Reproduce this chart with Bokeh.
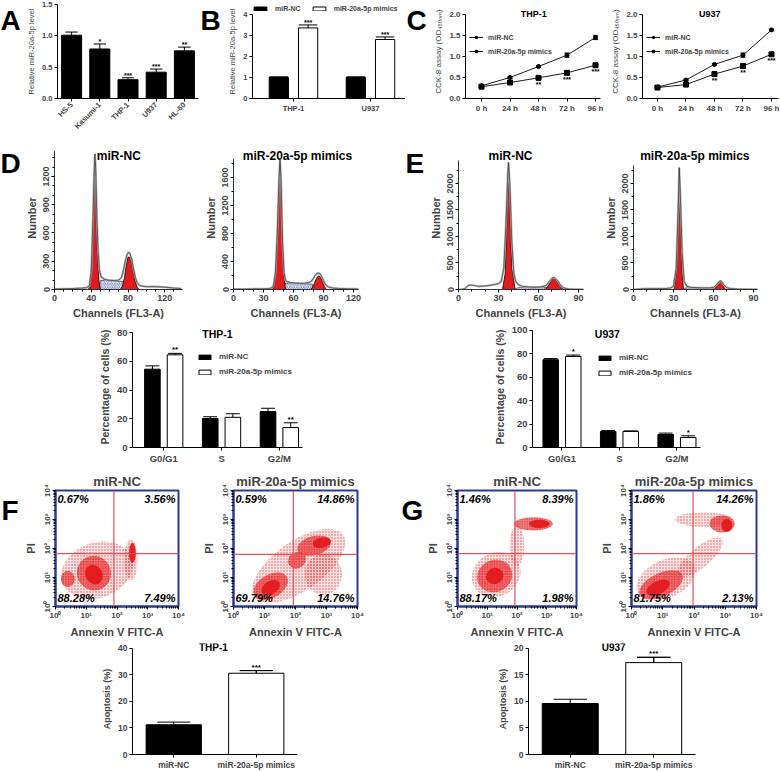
import math
from bokeh.plotting import figure
from bokeh.layouts import row, column
from bokeh.models import Range1d, FixedTicker, Legend, LegendItem, Span, PrintfTickFormatter
from bokeh.core.properties import value
from bokeh.embed import file_html
from bokeh.resources import INLINE

FONT = "Liberation Sans"
RED = "#E31A1C"
BLUE = "#2B3A96"
GATE = "#E8505A"

# ---------------- data ----------------
# A: relative miR-20a-5p level in cell lines
a_cells = ["HS-5", "Kasumi-1", "THP-1", "U937", "HL-60"]
a_level = [1.01, 0.79, 0.30, 0.42, 0.76]
a_err = [0.05, 0.08, 0.03, 0.05, 0.06]
a_sig = ["", "*", "***", "***", "**"]

# B: after transfection
b_cells = ["THP-1", "U937"]
b_nc = [1.00, 1.00]
b_nc_err = [0.03, 0.03]
b_mim = [3.35, 2.80]
b_mim_err = [0.14, 0.12]
b_sig = ["***", "***"]

# C: CCK-8 assay
c_hours = [0, 24, 48, 72, 96]
thp_nc = [0.30, 0.50, 0.76, 1.03, 1.45]
thp_nc_err = [0.02, 0.02, 0.02, 0.05, 0.05]
thp_mim = [0.28, 0.38, 0.49, 0.61, 0.79]
thp_mim_err = [0.02, 0.02, 0.04, 0.02, 0.02]
thp_sig = ["", "", "**", "***", "***"]
u_nc = [0.27, 0.44, 0.81, 1.03, 1.63]
u_nc_err = [0.02, 0.02, 0.02, 0.05, 0.02]
u_mim = [0.26, 0.33, 0.58, 0.77, 1.05]
u_mim_err = [0.02, 0.02, 0.02, 0.03, 0.03]
u_sig = ["", "", "**", "**", "***"]

# D/E histograms: (channel, count) outlines and fitted peaks
dnc_out_ch = [0, 10, 20, 30, 35, 38, 40, 42, 43, 44, 45, 46, 47.5, 49, 51, 54, 58, 65, 70, 73, 75, 77, 79, 80.5, 82, 84, 86, 88, 90, 93, 96, 100, 110, 120, 130, 138]
dnc_out_n = [5, 8, 10, 15, 20, 40, 200, 800, 1200, 1440, 1250, 800, 400, 200, 130, 110, 100, 95, 100, 130, 200, 300, 370, 395, 385, 320, 220, 130, 70, 40, 35, 30, 30, 25, 15, 10]
dnc_g1_ch = [37, 39, 41, 42.5, 44, 45.5, 47, 48.5, 50]
dnc_g1_n = [0, 60, 350, 850, 1360, 800, 300, 80, 0]
dnc_g2_ch = [72, 74, 76, 78, 80, 82, 84, 86, 88, 90, 92]
dnc_g2_n = [0, 40, 120, 250, 345, 340, 270, 170, 80, 25, 0]
dnc_s_ch = [48, 50, 55, 60, 65, 70, 75, 79]
dnc_s_n = [0, 95, 100, 95, 90, 88, 85, 80]

dm_out_ch = [0, 10, 20, 30, 35, 38, 40, 42, 44, 45.5, 46.5, 47.5, 49, 50.5, 52, 54, 57, 60, 65, 70, 75, 78, 80, 82, 84, 86, 88, 90, 92, 95, 100, 105, 110, 115, 120, 125]
dm_out_n = [5, 5, 8, 10, 12, 20, 60, 250, 900, 1600, 1850, 1600, 700, 250, 130, 110, 100, 95, 90, 88, 95, 120, 160, 210, 235, 230, 190, 130, 70, 35, 20, 15, 12, 10, 8, 5]
dm_g1_ch = [39, 41, 43, 45, 46.5, 48, 50, 52]
dm_g1_n = [0, 80, 450, 1250, 1800, 1100, 250, 0]
dm_g2_ch = [77, 79, 81, 83, 85, 87, 89, 91, 93]
dm_g2_n = [0, 30, 90, 160, 195, 175, 110, 40, 0]
dm_s_ch = [50, 52, 56, 60, 65, 70, 75, 79]
dm_s_n = [0, 95, 90, 88, 85, 82, 80, 75]

enc_out_ch = [0, 3, 5, 7, 9, 12, 15, 18, 21, 24, 27, 30, 32, 34, 35.5, 37, 37.5, 38.5, 40, 41.5, 43, 45, 48, 52, 56, 60, 63, 66, 68, 70, 71.5, 73, 75, 77, 79, 82, 86, 90, 94]
enc_out_n = [0, 5, 20, 70, 85, 75, 60, 65, 70, 80, 95, 110, 150, 400, 1200, 2200, 2400, 2000, 900, 300, 150, 90, 60, 50, 45, 45, 55, 80, 150, 210, 225, 200, 140, 70, 30, 10, 5, 3, 2]
enc_g1_ch = [33, 35, 36.5, 37.5, 38.5, 40, 42.5]
enc_g1_n = [0, 300, 1500, 2300, 1500, 400, 0]
enc_g2_ch = [65, 67, 69, 71, 73, 75, 77, 79]
enc_g2_n = [0, 60, 150, 207, 180, 110, 40, 0]
enc_s_ch = [42, 45, 50, 55, 60, 64, 66]
enc_s_n = [0, 40, 40, 38, 38, 40, 40]

em_out_ch = [0, 5, 10, 15, 20, 25, 28, 30, 32, 33.5, 34.3, 35, 36.5, 38, 40, 43, 47, 52, 57, 60, 62, 64, 65, 66, 68, 70, 73, 78, 85, 93]
em_out_n = [0, 10, 15, 15, 15, 20, 30, 60, 400, 1500, 2300, 1900, 700, 150, 60, 40, 35, 30, 30, 40, 80, 140, 165, 150, 80, 35, 15, 8, 5, 3]
em_g1_ch = [30.5, 32.5, 33.5, 34.3, 35.3, 36.5, 37.5]
em_g1_n = [0, 400, 1500, 2280, 1200, 300, 0]
em_g2_ch = [60.5, 62, 63.5, 65, 66.5, 68, 69]
em_g2_n = [0, 50, 120, 157, 120, 40, 0]
em_s_ch = [37, 40, 45, 50, 55, 60]
em_s_n = [0, 35, 33, 30, 30, 30]

# D/E bar charts: cell cycle distribution (%)
phases = ["G0/G1", "S", "G2/M"]
d_nc = [54.5, 20.2, 25.0]
d_nc_err = [2.3, 1.2, 2.3]
d_mim = [64.5, 21.0, 13.9]
d_mim_err = [1.0, 2.5, 3.3]
d_sig = ["**", "", "**"]
e_nc = [75.0, 13.7, 11.1]
e_nc_err = [1.0, 0.8, 1.2]
e_mim = [77.8, 13.7, 8.5]
e_mim_err = [1.2, 0.5, 1.5]
e_sig = ["*", "", "*"]

# F/G flow cytometry: cell clusters in log10 space (cx, cy, width, height, angle, density)
fnc_clusters = [(1.35, 1.25, 2.40, 1.90, 20, 1), (2.45, 1.60, 0.45, 1.40, 0, 1),
                (1.25, 1.15, 1.10, 1.20, 30, 2), (0.40, 0.95, 0.45, 0.55, 0, 2),
                (1.25, 1.10, 0.55, 0.70, 30, 3), (2.50, 1.85, 0.22, 0.70, 0, 3)]
fm_clusters = [(2.10, 1.40, 3.50, 1.70, 35, 1), (2.90, 1.10, 1.20, 1.40, 0, 1),
               (1.20, 0.70, 1.20, 0.80, 30, 2), (2.60, 2.10, 1.10, 0.65, 15, 2), (2.05, 1.60, 0.60, 0.55, 30, 2),
               (1.20, 0.65, 0.65, 0.45, 30, 3), (2.85, 2.20, 0.60, 0.35, 10, 3)]
gnc_clusters = [(1.30, 1.10, 1.70, 1.50, 30, 1), (2.00, 2.10, 0.50, 1.40, 0, 1),
                (1.25, 1.05, 1.20, 1.10, 25, 2), (2.55, 2.85, 1.30, 0.45, 0, 2),
                (1.25, 1.05, 0.60, 0.55, 25, 3), (2.75, 2.85, 0.70, 0.28, 0, 3)]
gm_clusters = [(1.10, 0.95, 2.00, 1.30, 25, 1), (2.20, 1.70, 1.80, 0.70, 40, 1), (2.30, 3.00, 1.80, 0.50, 0, 1),
               (0.95, 0.75, 1.50, 0.80, 25, 2), (2.90, 2.85, 0.80, 0.60, 0, 2),
               (0.85, 0.65, 0.80, 0.45, 25, 3), (3.05, 2.80, 0.35, 0.45, 0, 3)]
fnc_gate = (1.90, 1.82)
fm_gate = (1.93, 1.80)
gnc_gate = (1.93, 1.82)
gm_gate = (1.97, 1.82)
fnc_pct = ["0.67%", "3.56%", "88.28%", "7.49%"]
fm_pct = ["0.59%", "14.86%", "69.79%", "14.76%"]
gnc_pct = ["1.46%", "8.39%", "88.17%", "1.98%"]
gm_pct = ["1.86%", "14.26%", "81.75%", "2.13%"]
log_labels = ["10\u2070", "10\u00b9", "10\u00b2", "10\u00b3", "10\u2074"]

# F/G apoptosis bars
apo_groups = ["miR-NC", "miR-20a-5p mimics"]
f_apo = [11.2, 30.6]
f_apo_err = [1.0, 1.0]
g_apo = [9.6, 17.3]
g_apo_err = [0.8, 1.0]
apo_sig = ["", "***"]


# ---------------- helpers ----------------
def new_fig(w, h, l, r, t, b, xr, yr, title=None):
    p = figure(width=w, height=h, x_range=Range1d(*xr), y_range=Range1d(*yr),
               min_border_left=l, min_border_right=r, min_border_top=t, min_border_bottom=b,
               output_backend="svg", toolbar_location=None, title=title)
    p.xgrid.visible = False
    p.ygrid.visible = False
    p.outline_line_color = None
    p.background_fill_color = "white"
    p.border_fill_color = "white"
    return p


def style_axes(p, tick_fs, lab_fs, lab_bold=True, tick_bold=True, tick_out=3):
    for ax in p.axis:
        ax.major_label_text_font = FONT
        ax.major_label_text_font_size = tick_fs
        ax.major_label_text_font_style = "bold" if tick_bold else "normal"
        ax.axis_label_text_font = FONT
        ax.axis_label_text_font_size = lab_fs
        ax.axis_label_text_font_style = "bold" if lab_bold else "normal"
        ax.axis_line_color = "black"
        ax.major_tick_line_color = "black"
        ax.major_tick_in = 0
        ax.major_tick_out = tick_out
        ax.minor_tick_line_color = None
        ax.major_label_standoff = 2
        ax.axis_label_standoff = 3


def letter(ch, w, h, x, ytop):
    p = figure(width=w, height=h, x_range=Range1d(0, w), y_range=Range1d(0, h), min_border=0,
               output_backend="svg", toolbar_location=None, title=None,
               x_axis_location=None, y_axis_location=None)
    p.outline_line_color = None
    p.xgrid.visible = False
    p.ygrid.visible = False
    p.text(x=[x], y=[h - ytop], text=[ch], text_font=value(FONT), text_font_size="28px",
           text_font_style="bold", text_baseline="top", text_align="left")
    return p


def txt(p, xs, ys, texts, fs, style="bold", align="center", baseline="bottom", xo=0, yo=0, color="black"):
    p.text(x=xs, y=ys, text=texts, text_font=value(FONT), text_font_size=fs, text_font_style=style,
           text_align=align, text_baseline=baseline, x_offset=xo, y_offset=yo, text_color=color)


def up_err(p, xs, ys, es, cap, lw=1):
    tops = [y + e for y, e in zip(ys, es)]
    p.segment(x0=xs, y0=ys, x1=xs, y1=tops, line_color="black", line_width=lw)
    p.segment(x0=[x - cap for x in xs], y0=tops, x1=[x + cap for x in xs], y1=tops, line_color="black", line_width=lw)
    return tops


def both_err(p, xs, ys, es, cap):
    lo = [y - e for y, e in zip(ys, es)]
    hi = [y + e for y, e in zip(ys, es)]
    p.segment(x0=xs, y0=lo, x1=xs, y1=hi, line_color="black", line_width=1)
    p.segment(x0=[x - cap for x in xs], y0=hi, x1=[x + cap for x in xs], y1=hi, line_color="black", line_width=1)
    p.segment(x0=[x - cap for x in xs], y0=lo, x1=[x + cap for x in xs], y1=lo, line_color="black", line_width=1)


def legend(p, items, loc, fs, orient="vertical", gw=15, gh=6, spacing=5, standoff=6, padding=0):
    lg = Legend(items=[LegendItem(label=l, renderers=rs) for l, rs in items], location=loc,
                orientation=orient, label_text_font=FONT, label_text_font_size=fs,
                label_text_font_style="bold", glyph_width=gw, glyph_height=gh, label_height=8,
                spacing=spacing, padding=padding, margin=0, border_line_color=None,
                background_fill_alpha=0, label_standoff=standoff)
    p.add_layout(lg)


# ---------------- row 1 ----------------
pA = new_fig(178, 142, 35, 2, 4, 44, (-0.5, 4.5), (0, 1.5))
xa = list(range(len(a_cells)))
pA.vbar(x=xa, top=a_level, width=0.71, fill_color="black", line_color="black")
tops = up_err(pA, xa, a_level, a_err, 0.22)
txt(pA, xa, tops, a_sig, "7px", yo=1)
style_axes(pA, "7.5px", "7.5px", lab_bold=False)
pA.xaxis.ticker = FixedTicker(ticks=xa)
pA.xaxis.major_label_overrides = {i: c for i, c in enumerate(a_cells)}
pA.xaxis.major_label_orientation = math.pi / 4
pA.yaxis.ticker = FixedTicker(ticks=[0, 0.5, 1.0, 1.5])
pA.yaxis.formatter = PrintfTickFormatter(format="%.1f")
pA.yaxis.axis_label = "Relative miR-20a-5p level"

pB = new_fig(180, 142, 25, 0, 0, 26, (-0.532, 1.455), (0, 4.46))
xb = list(range(len(b_cells)))
off = 0.19
xb_nc = [x - off for x in xb]
xb_m = [x + off for x in xb]
up_err(pB, xb_nc, b_nc, b_nc_err, 0.12)
rb1 = pB.vbar(x=xb_nc, top=b_nc, width=0.25, fill_color="black", line_color="black")
rb2 = pB.vbar(x=xb_m, top=b_mim, width=0.25, fill_color="white", line_color="black")
tops = up_err(pB, xb_m, b_mim, b_mim_err, 0.12)
txt(pB, xb_m, tops, b_sig, "7px", yo=1)
style_axes(pB, "7.5px", "7.5px", lab_bold=False)
pB.xaxis.ticker = FixedTicker(ticks=xb)
pB.xaxis.major_label_overrides = {i: c for i, c in enumerate(b_cells)}
pB.yaxis.ticker = FixedTicker(ticks=[0, 1, 2, 3, 4])
pB.yaxis.bounds = (0, 4)
pB.yaxis.axis_label = "Relative miR-20a-5p level"
legend(pB, [("miR-NC", [rb1]), ("miR-20a-5p mimics", [rb2])], "top_left", "7px", orient="horizontal",
       gw=16, gh=5, spacing=10, standoff=7, padding=2)


def cck(p, nc, nc_err, mim, mim_err, sig, title, title_x):
    both_err(p, c_hours, nc, nc_err, 2.2)
    both_err(p, c_hours, mim, mim_err, 2.2)
    l1 = p.line(c_hours, nc, line_color="black", line_width=0.9)
    m1 = p.scatter(c_hours, nc, marker="circle", size=4, fill_color="black", line_color="black")
    l2 = p.line(c_hours, mim, line_color="black", line_width=0.9)
    m2 = p.scatter(c_hours, mim, marker="square", size=5, fill_color="black", line_color="black")
    txt(p, c_hours, mim, sig, "7px", baseline="top", yo=3)
    txt(p, [title_x], [2.0], [title], "9px", baseline="middle")
    style_axes(p, "8px", "8px", lab_bold=False)
    p.xaxis.ticker = FixedTicker(ticks=c_hours)
    p.xaxis.formatter = PrintfTickFormatter(format="%d h")
    p.yaxis.ticker = FixedTicker(ticks=[0, 0.5, 1.0, 1.5, 2.0])
    p.yaxis.formatter = PrintfTickFormatter(format="%.1f")
    p.yaxis.bounds = (0, 2)
    p.yaxis.axis_label = "CCK-8 assay (OD\u2084\u2085\u2080\u2099\u2098)"
    legend(p, [("miR-NC", [l1, m1]), ("miR-20a-5p mimics", [l2, m2])], (4, 43), "7px", gw=14, gh=6, spacing=6, standoff=5)


pC1 = new_fig(178, 142, 38, 5, 3, 43, (-13.47, 100.2), (0, 2.233))
cck(pC1, thp_nc, thp_nc_err, thp_mim, thp_mim_err, thp_sig, "THP-1", 44)
pC2 = new_fig(175, 142, 37, 2, 3, 43, (-12.6, 101.9), (0, 2.233))
cck(pC2, u_nc, u_nc_err, u_mim, u_mim_err, u_sig, "U937", 44)

row1 = row(letter("A", 22, 142, 0, 0), pA, letter("B", 25, 142, 0, 0), pB,
           letter("C", 22, 142, 1, 0), pC1, pC2)


# ---------------- row 2: histograms ----------------
def hist(p, out_ch, out_n, g1_ch, g1_n, g2_ch, g2_n, s_ch, s_n, title, title_x, xt, xminor, yt, yminor, ybound):
    p.patch(s_ch + [s_ch[-1], s_ch[0]], s_n + [0, 0], fill_color="white", line_color="#222222",
            line_width=0.6, hatch_pattern="right_diagonal_line", hatch_color="#3A4FB8", hatch_scale=3.5,
            hatch_weight=0.7)
    p.patch(g1_ch, g1_n, fill_color=RED, line_color="black", line_width=0.8)
    p.patch(g2_ch, g2_n, fill_color=RED, line_color="black", line_width=0.8)
    p.line(out_ch, out_n, line_color="#B0B0B0", line_width=2.2, line_alpha=0.9)
    p.line(out_ch, out_n, line_color="#222222", line_width=0.6)
    txt(p, [title_x], [p.y_range.end], [title], "12px", baseline="top", yo=2)
    style_axes(p, "9px", "11px")
    for ax in p.axis:
        ax.minor_tick_line_color = "black"
        ax.minor_tick_in = 0
        ax.minor_tick_out = 2
        ax.axis_line_color = "#333333"
    p.xaxis.ticker = FixedTicker(ticks=xt, minor_ticks=xminor)
    p.yaxis.ticker = FixedTicker(ticks=yt, minor_ticks=yminor)
    p.yaxis.major_label_orientation = "vertical"
    p.yaxis.bounds = (0, ybound)
    p.xaxis.axis_label = "Channels (FL3-A)"
    p.yaxis.axis_label = "Number"


pDN = new_fig(168, 180, 30, 8, 4, 33, (0, 139.3), (0, 1518))
hist(pDN, dnc_out_ch, dnc_out_n, dnc_g1_ch, dnc_g1_n, dnc_g2_ch, dnc_g2_n, dnc_s_ch, dnc_s_n,
     "miR-NC", 70, [0, 40, 80, 120], [t for t in range(10, 140, 10) if t % 40], [0, 300, 600, 900, 1200],
     [t for t in range(100, 1450, 100) if t % 300], 1475)
pDM = new_fig(205, 180, 43, 37, 4, 33, (0, 125), (0, 2043))
hist(pDM, dm_out_ch, dm_out_n, dm_g1_ch, dm_g1_n, dm_g2_ch, dm_g2_n, dm_s_ch, dm_s_n,
     "miR-20a-5p mimics", 64, [0, 30, 60, 90, 120], [t for t in range(10, 125, 10) if t % 30], [0, 400, 800, 1200, 1600],
     [t for t in range(200, 1870, 200) if t % 400], 1870)
pEN = new_fig(170, 180, 33, 12, 4, 33, (0, 93.75), (0, 2698))
hist(pEN, enc_out_ch, enc_out_n, enc_g1_ch, enc_g1_n, enc_g2_ch, enc_g2_n, enc_s_ch, enc_s_n,
     "miR-NC", 39, [0, 30, 60, 90], [t for t in range(10, 94, 10) if t % 30], [0, 500, 1000, 1500, 2000],
     [t for t in range(250, 2430, 250) if t % 500], 2430)
pEM = new_fig(185, 180, 38, 23, 4, 33, (0, 93), (0, 2698))
hist(pEM, em_out_ch, em_out_n, em_g1_ch, em_g1_n, em_g2_ch, em_g2_n, em_s_ch, em_s_n,
     "miR-20a-5p mimics", 46, [0, 30, 60, 90], [t for t in range(10, 93, 10) if t % 30], [0, 500, 1000, 1500, 2000],
     [t for t in range(250, 2340, 250) if t % 500], 2340)

row2 = row(letter("D", 22, 180, 0, 2), pDN, pDM, letter("E", 30, 180, 10, 2), pEN, pEM)


# ---------------- row 3: cell-cycle bars ----------------
def cycle_bars(p, nc, nc_err, mim, mim_err, sig, title, title_x, title_y, yticks, ybound, leg_loc):
    xs = list(range(len(phases)))
    o = 0.196
    xn = [x - o for x in xs]
    xm = [x + o for x in xs]
    up_err(p, xn, nc, nc_err, 0.12)
    r1 = p.vbar(x=xn, top=nc, width=0.27, fill_color="black", line_color="black")
    r2 = p.vbar(x=xm, top=mim, width=0.27, fill_color="white", line_color="black")
    tops = up_err(p, xm, mim, mim_err, 0.12)
    txt(p, xm, tops, sig, "8px", yo=1)
    txt(p, [title_x], [title_y], [title], "10.5px", baseline="middle")
    style_axes(p, "9.5px", "10.5px")
    p.xaxis.ticker = FixedTicker(ticks=xs)
    p.xaxis.major_label_overrides = {i: c for i, c in enumerate(phases)}
    p.yaxis.ticker = FixedTicker(ticks=yticks)
    p.yaxis.bounds = (0, ybound)
    p.yaxis.axis_label = "Percentage of cells (%)"
    legend(p, [("miR-NC", [r1]), ("miR-20a-5p mimics", [r2])], leg_loc, "8px", gw=15, gh=6, spacing=6, standoff=7)


pDB = new_fig(390, 148, 132, 88, 4, 23, (-0.54, 2.40), (0, 84.2))
cycle_bars(pDB, d_nc, d_nc_err, d_mim, d_mim_err, d_sig, "THP-1", 0.93, 79.3, [0, 20, 40, 60, 80], 80, (65, 71))
pEB = new_fig(390, 148, 142, 80, 4, 23, (-0.513, 2.41), (0, 103.4))
cycle_bars(pEB, e_nc, e_nc_err, e_mim, e_mim_err, e_sig, "U937", 0.79, 97.4, [0, 20, 40, 60, 80, 100], 100, (65, 70))

row3 = row(pDB, pEB)


# ---------------- row 4: flow cytometry ----------------
log_minor = [math.log10(k) + d for d in range(4) for k in range(2, 10)]


def flow(p, clusters, gate, pct):
    for cx, cy, w, h, a, dens in clusters:
        if dens == 1:
            p.ellipse(x=[cx], y=[cy], width=[w], height=[h], angle=[a], angle_units="deg",
                      fill_color=RED, fill_alpha=0.12, line_color=None,
                      hatch_pattern="dot", hatch_color=RED, hatch_scale=3, hatch_alpha=0.7)
        elif dens == 2:
            p.ellipse(x=[cx], y=[cy], width=[w], height=[h], angle=[a], angle_units="deg",
                      fill_color=RED, fill_alpha=0.55, line_color=None,
                      hatch_pattern="dot", hatch_color=RED, hatch_scale=2.5)
        else:
            p.ellipse(x=[cx], y=[cy], width=[w], height=[h], angle=[a], angle_units="deg",
                      fill_color=RED, fill_alpha=0.95, line_color=None)
    p.add_layout(Span(location=gate[0], dimension="height", line_color=GATE, line_width=1.2))
    p.add_layout(Span(location=gate[1], dimension="width", line_color=GATE, line_width=1.2))
    txt(p, [0], [4], [pct[0]], "11px", style="bold italic", align="left", baseline="top", xo=2, yo=2)
    txt(p, [4], [4], [pct[1]], "11px", style="bold italic", align="right", baseline="top", xo=-3, yo=2)
    txt(p, [0], [0], [pct[2]], "11px", style="bold italic", align="left", baseline="bottom", xo=2, yo=-3)
    txt(p, [4], [0], [pct[3]], "11px", style="bold italic", align="right", baseline="bottom", xo=-3, yo=-3)
    style_axes(p, "8px", "11px")
    for ax in p.axis:
        ax.axis_line_color = BLUE
        ax.axis_line_width = 2
        ax.minor_tick_line_color = "black"
        ax.minor_tick_in = 0
        ax.minor_tick_out = 2
        ax.ticker = FixedTicker(ticks=[0, 1, 2, 3, 4], minor_ticks=log_minor)
        ax.major_label_overrides = {i: s for i, s in enumerate(log_labels)}
        ax.major_label_standoff = 1
        ax.axis_label_standoff = 3
    p.yaxis.major_label_orientation = "vertical"
    p.outline_line_color = BLUE
    p.outline_line_width = 2
    p.xaxis.axis_label = "Annexin V FITC-A"
    p.yaxis.axis_label = "PI"
    p.title.align = "center"
    p.title.text_font = FONT
    p.title.text_font_size = "13px"
    p.title.text_font_style = "bold"
    p.title.standoff = 3


pFN = new_fig(176, 170, 36, 17, 20, 33, (0, 4), (0, 4), title="miR-NC")
flow(pFN, fnc_clusters, fnc_gate, fnc_pct)
pFM = new_fig(195, 170, 38, 33, 20, 33, (0, 4), (0, 4), title="miR-20a-5p mimics")
flow(pFM, fm_clusters, fm_gate, fm_pct)
pGN = new_fig(172, 170, 30, 19, 20, 33, (0, 4), (0, 4), title="miR-NC")
flow(pGN, gnc_clusters, gnc_gate, gnc_pct)
pGM = new_fig(185, 170, 36, 24, 20, 33, (0, 4), (0, 4), title="miR-20a-5p mimics")
flow(pGM, gm_clusters, gm_gate, gm_pct)

row4 = row(letter("F", 19, 170, 1, 7), pFN, pFM, letter("G", 33, 170, 11, 7), pGN, pGM)


# ---------------- row 5: apoptosis bars ----------------
def apo(p, vals, errs, title, title_x, title_y, yticks, ybound):
    xs = list(range(len(apo_groups)))
    up_err(p, xs, vals, errs, 0.2)
    p.vbar(x=xs, top=vals, width=0.67, fill_color=["black", "white"], line_color="black")
    tops = [v + e for v, e in zip(vals, errs)]
    up_err(p, xs[1:], vals[1:], errs[1:], 0.2)
    txt(p, xs, tops, apo_sig, "8px", yo=1)
    txt(p, [title_x], [title_y], [title], "10px", baseline="middle")
    style_axes(p, "8.5px", "9px")
    p.xaxis.ticker = FixedTicker(ticks=xs)
    p.xaxis.major_label_overrides = {i: c for i, c in enumerate(apo_groups)}
    p.yaxis.ticker = FixedTicker(ticks=yticks)
    p.yaxis.bounds = (0, ybound)
    p.yaxis.axis_label = "Apoptosis (%)"


pFB = new_fig(390, 132, 132, 93, 3, 14, (-0.5, 1.5), (0, 41.8))
apo(pFB, f_apo, f_apo_err, "THP-1", 0.48, 40.4, [0, 10, 20, 30, 40], 40)
pGB = new_fig(390, 132, 138, 85, 3, 14, (-0.5, 1.5), (0, 20.9))
apo(pGB, g_apo, g_apo_err, "U937", 0.52, 20.2, [0, 5, 10, 15, 20], 20)

row5 = row(pFB, pGB)

root = column(row1, row2, row3, row4, row5)
open("out.html", "w").write(file_html(root, INLINE))
